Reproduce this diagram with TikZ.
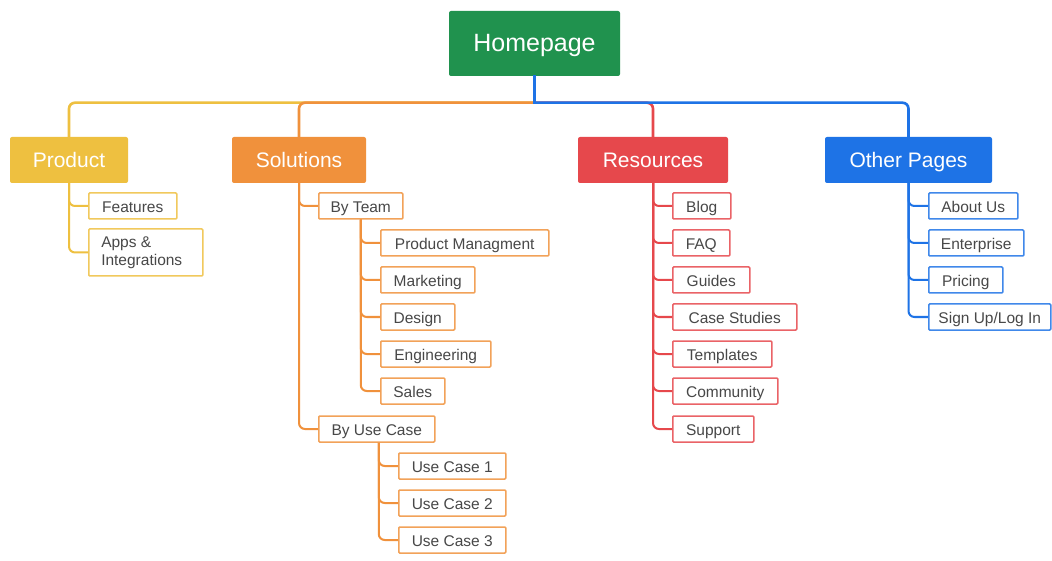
\documentclass[tikz,border=0pt]{standalone}
\usepackage{fontspec}
\setmainfont{Liberation Sans}
\definecolor{cgreen}{RGB}{32,146,78}
\definecolor{cyellow}{RGB}{238,192,64}
\definecolor{corange}{RGB}{240,145,60}
\definecolor{cred}{RGB}{230,72,76}
\definecolor{cblue}{RGB}{30,115,230}
\definecolor{ctext}{RGB}{72,72,72}
\begin{document}
\begin{tikzpicture}[x=1pt,y=-1pt,
  top/.style={fill=cgreen,text=white,inner sep=0pt,rounded corners=2pt,minimum width=171pt,minimum height=65pt,text height=19pt,text depth=2pt,font=\fontsize{25}{27}\selectfont},
  lvl/.style={fill=#1,text=white,inner sep=0pt,rounded corners=2pt,minimum height=46pt,text height=17pt,text depth=2pt,font=\fontsize{21}{23}\selectfont},
  leafbase/.style={draw=#1!85!white,line width=1.5pt,fill=white,text=ctext,inner sep=0pt,rounded corners=1pt,minimum height=26pt,anchor=west,font=\fontsize{15.5}{17}\selectfont},
  leaf/.style={leafbase=#1,text height=14pt,text depth=1pt},
  bus/.style={draw=#1,line width=2.6pt,rounded corners=6pt},
  conn/.style={draw=#1,line width=2pt,rounded corners=6pt}]
\useasboundingbox (0,0) rectangle (1052,561);
\fill[white] (0,0) rectangle (1052,561);
% nodes
\node[top] (home) at (534.5,43.5) {Homepage};
\node[lvl=cyellow,minimum width=118pt] (prod) at (69,160) {Product};
\node[lvl=corange,minimum width=134pt] (sol) at (299,160) {Solutions};
\node[lvl=cred,minimum width=150pt] (res) at (653,160) {Resources};
\node[lvl=cblue,minimum width=167pt] (oth) at (908.5,160) {Other Pages};
% product
\node[leaf=cyellow,minimum width=88pt] (feat) at (88,206) {Features};
\node[leafbase=cyellow,minimum width=114pt,minimum height=47pt,align=left] (apps) at (88,252.5) {Apps \&\\[1pt]Integrations\hspace*{8pt}};
% solutions
\node[leaf=corange,minimum width=84pt] (byteam) at (318,206) {By Team};
\node[leaf=corange,minimum width=168pt] (pm) at (380,243) {Product Managment};
\node[leaf=corange,minimum width=94pt] (mkt) at (380,280) {Marketing};
\node[leaf=corange,minimum width=74pt] (des) at (380,317) {Design};
\node[leaf=corange,minimum width=110pt] (eng) at (380,354) {Engineering};
\node[leaf=corange,minimum width=64pt] (sales) at (380,391) {Sales};
\node[leaf=corange,minimum width=116pt] (buc) at (318,429) {By Use Case};
\node[leaf=corange,minimum width=107pt] (uc1) at (398,466) {Use Case 1};
\node[leaf=corange,minimum width=107pt] (uc2) at (398,503) {Use Case 2};
\node[leaf=corange,minimum width=107pt] (uc3) at (398,540) {Use Case 3};
% resources
\node[leaf=cred,minimum width=58pt] (blog) at (672,206) {Blog};
\node[leaf=cred,minimum width=57pt] (faq) at (672,243) {FAQ};
\node[leaf=cred,minimum width=77pt] (guides) at (672,280) {Guides};
\node[leaf=cred,minimum width=124pt] (cs) at (672,317) {Case Studies};
\node[leaf=cred,minimum width=99pt] (tmpl) at (672,354) {Templates};
\node[leaf=cred,minimum width=105pt] (comm) at (672,391) {Community};
\node[leaf=cred,minimum width=81pt] (sup) at (672,429) {Support};
% other
\node[leaf=cblue,minimum width=89pt] (about) at (928,206) {About Us};
\node[leaf=cblue,minimum width=95pt] (ent) at (928,243) {Enterprise};
\node[leaf=cblue,minimum width=74pt] (pric) at (928,280) {Pricing};
\node[leaf=cblue,minimum width=122pt] (sign) at (928,317) {Sign Up/Log In};
% top-level connectors
\coordinate (busy) at ([yshift=-26.5pt]home.south);
\draw[bus=cyellow] (busy) -| (prod.north);
\draw[bus=corange] (busy) -| (sol.north);
\draw[bus=cred] (busy) -| (res.north);
\draw[bus=cblue] (busy) -| (oth.north);
\draw[bus=cblue,line cap=rect] (home.south) -- (busy);
% leaf connectors
\foreach \c in {feat,apps} \draw[conn=cyellow] (prod.south) |- (\c.west);
\foreach \c in {byteam,buc} \draw[conn=corange] (sol.south) |- (\c.west);
\foreach \c in {pm,mkt,des,eng,sales} \draw[conn=corange] (byteam.south) |- (\c.west);
\foreach \c in {uc1,uc2,uc3} \draw[conn=corange] ([xshift=2pt]buc.south) |- (\c.west);
\foreach \c in {blog,faq,guides,cs,tmpl,comm,sup} \draw[conn=cred] (res.south) |- (\c.west);
\foreach \c in {about,ent,pric,sign} \draw[conn=cblue] (oth.south) |- (\c.west);
\end{tikzpicture}
\end{document}
